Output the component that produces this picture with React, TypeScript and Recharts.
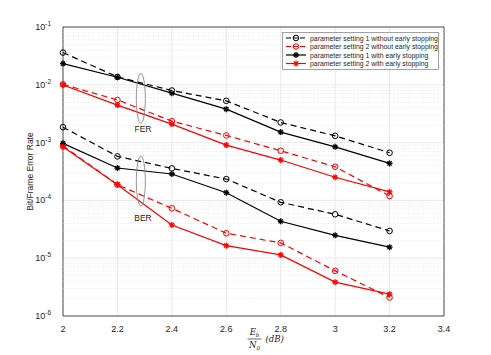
import {
  LineChart,
  Line,
  XAxis,
  YAxis,
  CartesianGrid,
  ReferenceLine,
  ReferenceArea,
  ReferenceDot,
} from "recharts";

// Eb/N0 in dB
const ebn0 = [2, 2.2, 2.4, 2.6, 2.8, 3, 3.2];

// frame error rate
const ferSet1NoEs = [0.0361, 0.0137, 0.00796, 0.00527, 0.00223, 0.00131, 0.000667];
const ferSet2NoEs = [0.0102, 0.00548, 0.00235, 0.00133, 0.000722, 0.000382, 0.000119];
const ferSet1Es = [0.0233, 0.0135, 0.00716, 0.00379, 0.00152, 0.000845, 0.000437];
const ferSet2Es = [0.0099, 0.00445, 0.00209, 0.000906, 0.000499, 0.000251, 0.00014];

// bit error rate
const berSet1NoEs = [0.00185, 0.000578, 0.000358, 0.000234, 9.27e-5, 5.75e-5, 2.96e-5];
const berSet2NoEs = [0.00088, 0.000187, 7.3e-5, 2.7e-5, 1.84e-5, 6.04e-6, 2.09e-6];
const berSet1Es = [0.00097, 0.000363, 0.000286, 0.000136, 4.35e-5, 2.49e-5, 1.55e-5];
const berSet2Es = [0.000845, 0.000187, 3.76e-5, 1.65e-5, 1.14e-5, 3.85e-6, 2.39e-6];

const xTicks = [2, 2.2, 2.4, 2.6, 2.8, 3, 3.2, 3.4];
const yTicks = [1e-6, 1e-5, 1e-4, 1e-3, 1e-2, 1e-1];

const legendNames = [
  "parameter setting 1 without early stopping",
  "parameter setting 2 without early stopping",
  "parameter setting 1 with early stopping",
  "parameter setting 2 with early stopping",
];

const RED = "#ff0000";
const BLACK = "#000000";
const FONT = "'Liberation Sans', Arial, sans-serif";

const data = ebn0.map((x, i) => ({
  x,
  f1n: ferSet1NoEs[i],
  f2n: ferSet2NoEs[i],
  f1e: ferSet1Es[i],
  f2e: ferSet2Es[i],
  b1n: berSet1NoEs[i],
  b2n: berSet2NoEs[i],
  b1e: berSet1Es[i],
  b2e: berSet2Es[i],
}));

// minor log grid: 2..9 x 10^k
const minorGrid: number[] = [];
for (let e = -6; e <= -2; e++) {
  for (let m = 2; m <= 9; m++) minorGrid.push(m * Math.pow(10, e));
}

type Style = { color: string; dashed: boolean; marker: "o" | "*" };
const styles: Style[] = [
  { color: BLACK, dashed: true, marker: "o" },
  { color: RED, dashed: true, marker: "o" },
  { color: BLACK, dashed: false, marker: "*" },
  { color: RED, dashed: false, marker: "*" },
];

function Marker({ cx, cy, color, marker }: { cx: number; cy: number; color: string; marker: "o" | "*" }) {
  if (marker === "o") {
    return <circle cx={cx} cy={cy} r={2.8} fill="none" stroke={color} strokeWidth={1} />;
  }
  const s = 3;
  return (
    <g stroke={color} strokeWidth={1.3}>
      <line x1={cx - s} y1={cy} x2={cx + s} y2={cy} />
      <line x1={cx} y1={cy - s} x2={cx} y2={cy + s} />
      <line x1={cx - s * 0.7} y1={cy - s * 0.7} x2={cx + s * 0.7} y2={cy + s * 0.7} />
      <line x1={cx - s * 0.7} y1={cy + s * 0.7} x2={cx + s * 0.7} y2={cy - s * 0.7} />
    </g>
  );
}

const makeDot = (st: Style) => (props: any) => {
  const { cx, cy, key, index } = props;
  if (cx == null || cy == null) return <g key={key ?? index} />;
  return (
    <g key={key ?? `d-${index}`}>
      <Marker cx={cx} cy={cy} color={st.color} marker={st.marker} />
    </g>
  );
};

function YTick(props: any) {
  const { x, y, payload } = props;
  const exp = Math.round(Math.log10(payload.value));
  return (
    <text x={x - 4} y={y + 3} textAnchor="end" fontSize={9} fill="#262626" fontFamily={FONT}>
      <tspan>10</tspan>
      <tspan dy={-4} fontSize={6.5}>
        {exp}
      </tspan>
    </text>
  );
}

function XTick(props: any) {
  const { x, y, payload } = props;
  return (
    <text x={x} y={y + 8} textAnchor="middle" fontSize={9} fill="#262626" fontFamily={FONT}>
      {payload.value}
    </text>
  );
}

function XLabel(props: any) {
  const { viewBox } = props;
  const cx = viewBox.x + viewBox.width / 2;
  const top = viewBox.y;
  const serif = "'DejaVu Serif', 'Liberation Serif', serif";
  return (
    <g fontFamily={serif} fontStyle="italic" fill="#262626">
      <text x={cx + 1} y={top + 19} fontSize={8.5} textAnchor="middle">
        E<tspan fontSize={5.5} dy={2}>b</tspan>
      </text>
      <line x1={cx - 6} x2={cx + 8} y1={top + 23} y2={top + 23} stroke="#262626" strokeWidth={0.7} />
      <text x={cx + 1} y={top + 32} fontSize={8.5} textAnchor="middle">
        N<tspan fontSize={5.5} dy={2}>0</tspan>
      </text>
      <text x={cx + 12} y={top + 26} fontSize={8.5}>
        (dB)
      </text>
    </g>
  );
}

function Ellipse(props: any) {
  const { cx, cy } = props;
  return <ellipse cx={cx} cy={cy} rx={4.5} ry={25} fill="none" stroke="#888" strokeWidth={0.9} />;
}

function LegendBox() {
  return (
    <div style={{ position: "absolute", left: 282, top: 32, width: 157, height: 38 }}>
      <svg width={157} height={38}>
        <rect x={0.5} y={0.5} width={156} height={37} fill="#fff" stroke="#8c8c8c" strokeWidth={0.8} />
        {legendNames.map((name, i) => {
          const st = styles[i];
          const y = 6 + i * 8.5;
          return (
            <g key={name}>
              <line
                x1={4}
                x2={24}
                y1={y}
                y2={y}
                stroke={st.color}
                strokeWidth={1.2}
                strokeDasharray={st.dashed ? "5 2" : undefined}
              />
              <Marker cx={14} cy={y} color={st.color} marker={st.marker} />
              <text x={28} y={y + 2.5} fontSize={6.9} fill="#262626" fontFamily={FONT}>
                {name}
              </text>
            </g>
          );
        })}
      </svg>
    </div>
  );
}

const seriesKeys = [
  ["f1n", 0],
  ["f2n", 1],
  ["f1e", 2],
  ["f2e", 3],
  ["b1n", 0],
  ["b2n", 1],
  ["b1e", 2],
  ["b2e", 3],
] as const;

export default function App() {
  return (
    <div style={{ position: "absolute", left: 0, top: 0, width: 491, height: 355, background: "#fff" }}>
      <LineChart width={491} height={355} data={data} margin={{ top: 27, right: 47, left: 3, bottom: 9 }}>
        <CartesianGrid stroke="#e3e3e3" strokeWidth={0.8} />
        {minorGrid.map((v) => (
          <ReferenceLine key={v} y={v} stroke="#d6d6d6" strokeWidth={0.6} strokeDasharray="1 1.5" />
        ))}
        <XAxis
          dataKey="x"
          type="number"
          domain={[2, 3.4]}
          ticks={xTicks}
          tick={<XTick />}
          tickLine={false}
          axisLine={false}
          height={30}
          label={<XLabel />}
        />
        <YAxis
          scale="log"
          domain={[1e-6, 1e-1]}
          ticks={yTicks}
          tick={<YTick />}
          tickLine={false}
          axisLine={false}
          width={60}
          allowDataOverflow
          label={{
            value: "Bit/Frame Error Rate",
            angle: -90,
            position: "insideLeft",
            offset: 27,
            style: { fontSize: 8.5, fill: "#262626", fontFamily: FONT, textAnchor: "middle" },
          }}
        />
        <ReferenceArea x1={2} x2={3.4} y1={1e-6} y2={1e-1} fill="none" stroke="#262626" strokeWidth={0.8} />
        <ReferenceDot x={2.286} y={0.0058} shape={<Ellipse />} />
        <ReferenceDot x={2.286} y={0.000216} shape={<Ellipse />} />
        <ReferenceDot
          x={2.294}
          y={0.00171}
          r={0}
          label={{ value: "FER", fontSize: 8.5, fill: "#262626", fontFamily: FONT, position: "center" }}
        />
        <ReferenceDot
          x={2.294}
          y={4.97e-5}
          r={0}
          label={{ value: "BER", fontSize: 8.5, fill: "#262626", fontFamily: FONT, position: "center" }}
        />
        {seriesKeys.map(([k, si]) => {
          const st = styles[si];
          return (
            <Line
              key={k}
              dataKey={k}
              type="linear"
              stroke={st.color}
              strokeWidth={1.2}
              strokeDasharray={st.dashed ? "6 4" : undefined}
              dot={makeDot(st)}
              activeDot={false}
              isAnimationActive={false}
            />
          );
        })}
      </LineChart>
      <LegendBox />
    </div>
  );
}
